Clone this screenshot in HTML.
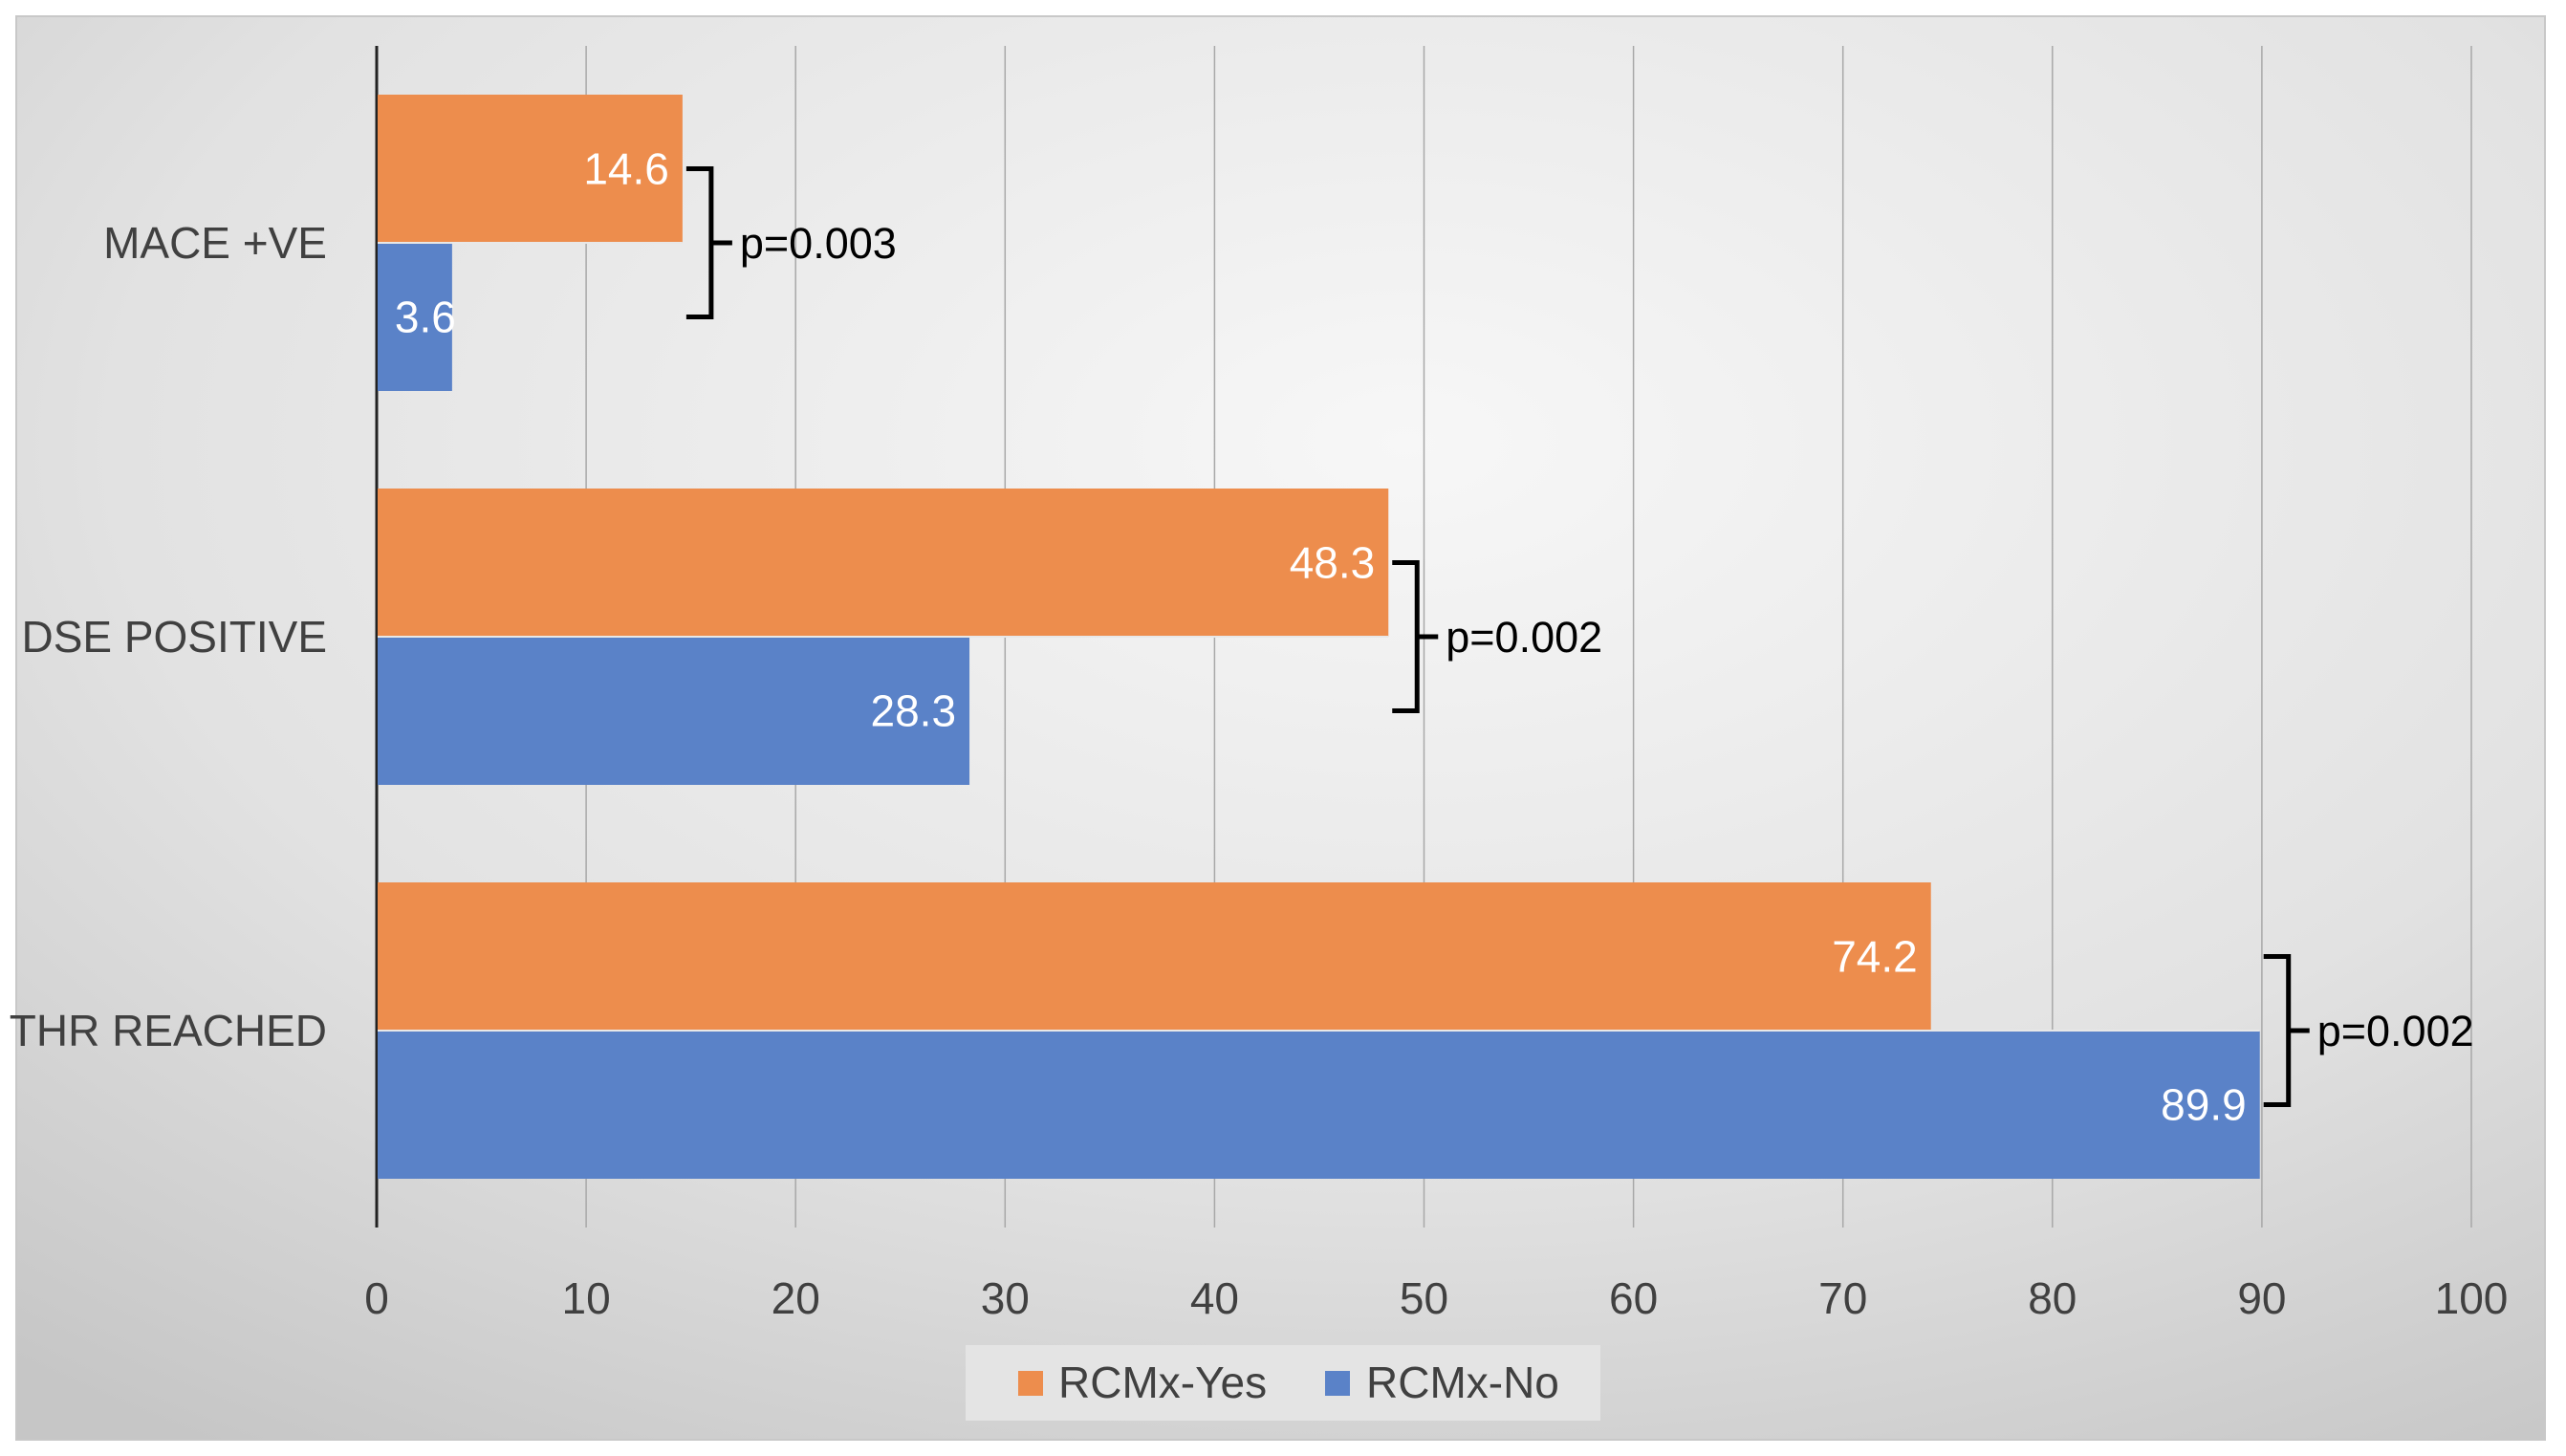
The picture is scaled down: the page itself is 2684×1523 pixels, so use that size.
<!DOCTYPE html>
<html><head><meta charset="utf-8">
<style>
html,body{margin:0;padding:0;background:#fff;}
svg{display:block;font-family:"Liberation Sans",sans-serif;}
</style></head>
<body>
<svg id="chart" width="2684" height="1523" viewBox="0 0 2684 1523" xmlns="http://www.w3.org/2000/svg">
<defs>
<radialGradient id="bg" cx="0.55" cy="0.3" r="0.85">
<stop offset="0" stop-color="#f7f7f7"/>
<stop offset="0.6" stop-color="#e2e2e2"/>
<stop offset="1" stop-color="#c6c6c6"/>
</radialGradient>
</defs>
<rect x="17" y="17" width="2645" height="1489" fill="url(#bg)" stroke="#c8c8c8" stroke-width="2"/>
<g id="grid"></g>
<g id="bars"></g>
<g id="labels"></g>
<g id="brackets"></g>
<g id="legend"></g>
</svg>
<script>
const categories = ["MACE +VE", "DSE POSITIVE", "THR REACHED"];
const yesValues = [14.6, 48.3, 74.2];
const noValues = [3.6, 28.3, 89.9];
const pValues = ["p=0.003", "p=0.002", "p=0.002"];
const ticks = [0,10,20,30,40,50,60,70,80,90,100];

const NS = "http://www.w3.org/2000/svg";
const x0 = 394, unit = 21.91, plotTop = 48, plotBottom = 1284;
const band = (plotBottom - plotTop) / categories.length;
const barH = 155;
function xs(v){ return x0 + v * unit; }
function el(tag, attrs, parent, text){
  const e = document.createElementNS(NS, tag);
  for (const k in attrs) e.setAttribute(k, attrs[k]);
  if (text !== undefined) e.textContent = text;
  parent.appendChild(e);
  return e;
}
const grid = document.getElementById('grid');
const bars = document.getElementById('bars');
const labels = document.getElementById('labels');
const brackets = document.getElementById('brackets');
const legend = document.getElementById('legend');

ticks.forEach(t => {
  const g = el('line', {x1: xs(t), x2: xs(t), y1: plotTop, y2: plotBottom, stroke: t === 0 ? '#222' : '#a8a8a8', 'stroke-width': t === 0 ? 3 : 1.5}, grid);
  
  
  const l = el('text', {x: xs(t), y: 1374, 'text-anchor': 'middle', 'font-size': 46, fill: '#404040'}, grid, String(t));
  
  
});

categories.forEach((c, i) => {
  const bTop = plotTop + i * band + (band - 2 * barH) / 2;
  const cy = plotTop + i * band + band / 2;
  const cl = el('text', {x: 342, y: cy + 16, 'text-anchor': 'end', 'font-size': 46, fill: '#404040'}, labels, c);
  
  

  const ry = el('rect', {x: x0 + 1, y: bTop, width: xs(yesValues[i]) - x0 - 1, height: barH, fill: '#ED8D4D'}, bars);
  
  
  const rn = el('rect', {x: x0 + 1, y: bTop + barH, width: xs(noValues[i]) - x0 - 1, height: barH, fill: '#5A82C8'}, bars);
  
  
  el('line', {x1: x0 + 1, x2: Math.max(xs(yesValues[i]), xs(noValues[i])), y1: bTop + barH, y2: bTop + barH, stroke: '#e8e8e8', 'stroke-width': 2}, bars);

  const ly = el('text', {x: xs(yesValues[i]) - 14, y: bTop + barH/2 + 16, 'text-anchor': 'end', 'font-size': 46, fill: '#fff'}, labels, yesValues[i].toFixed(1));
  
  
  const nx = noValues[i] < 8 ? xs(noValues[i]) + 4 : xs(noValues[i]) - 14;
  const ln = el('text', {x: nx, y: bTop + barH*1.5 + 16, 'text-anchor': 'end', 'font-size': 46, fill: '#fff'}, labels, noValues[i].toFixed(1));
  
  

  const bx0 = Math.max(xs(yesValues[i]), xs(noValues[i])) + 4;
  const bx = bx0 + 26;
  const by1 = bTop + barH/2, by2 = bTop + barH*1.5;
  const g = el('g', {}, brackets);
  
  
  el('path', {d: `M${bx0},${by1} H${bx} V${by2} H${bx0} M${bx},${(by1+by2)/2} H${bx+22}`, fill: 'none', stroke: '#000', 'stroke-width': 5}, g);
  const pt = el('text', {x: bx + 30, y: (by1+by2)/2 + 16, 'font-size': 45, fill: '#000'}, g, pValues[i]);
  
  
});

const lb = el('rect', {x: 1010, y: 1407, width: 664, height: 79, fill: '#e4e4e4'}, legend);


const s1 = el('rect', {x: 1065, y: 1434, width: 26, height: 26, fill: '#ED8D4D'}, legend);


const t1 = el('text', {x: 1107, y: 1462, 'font-size': 46, fill: '#404040'}, legend, 'RCMx-Yes');


const s2 = el('rect', {x: 1386, y: 1434, width: 26, height: 26, fill: '#5A82C8'}, legend);


const t2 = el('text', {x: 1429, y: 1462, 'font-size': 46, fill: '#404040'}, legend, 'RCMx-No');


</script>
</body></html>
